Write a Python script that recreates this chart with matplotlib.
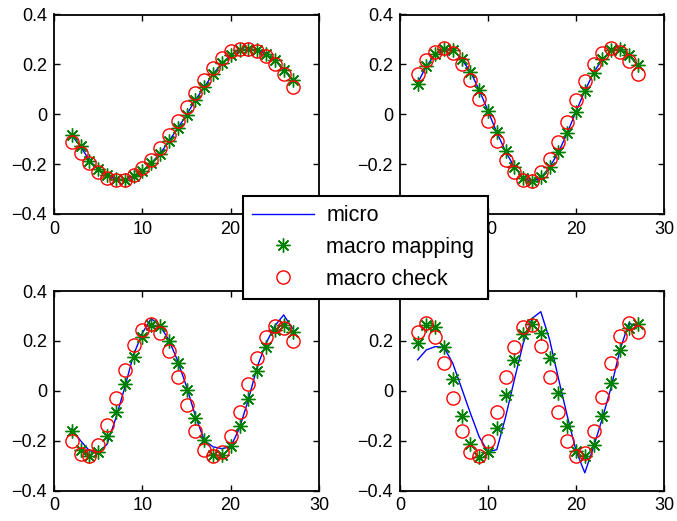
import matplotlib.pyplot as plt
from matplotlib.lines import Line2D

plt.rcParams['font.family'] = ['Liberation Sans', 'DejaVu Sans']
plt.rcParams['font.size'] = 13

# sample positions shared by every panel
x_vals = [2, 3, 4, 5, 6, 7, 8, 9, 10, 11, 12, 13, 14,
          15, 16, 17, 18, 19, 20, 21, 22, 23, 24, 25, 26, 27]

# panel 1 (top left)
micro_1 = [-0.085, -0.128, -0.185, -0.221, -0.245, -0.26, -0.263, -0.25, -0.228, -0.196, -0.158, -0.109, -0.056,
           -0.003, 0.057, 0.108, 0.161, 0.204, 0.237, 0.257, 0.262, 0.257, 0.241, 0.217, 0.177, 0.137]
mapping_1 = [-0.083, -0.129, -0.187, -0.22, -0.244, -0.26, -0.263, -0.249, -0.229, -0.196, -0.159, -0.109, -0.056,
             -0.003, 0.057, 0.108, 0.161, 0.204, 0.237, 0.257, 0.261, 0.257, 0.241, 0.217, 0.177, 0.137]
check_1 = [-0.113, -0.156, -0.196, -0.232, -0.256, -0.265, -0.263, -0.243, -0.216, -0.183, -0.136, -0.085, -0.029,
           0.028, 0.084, 0.137, 0.184, 0.224, 0.255, 0.26, 0.261, 0.255, 0.233, 0.201, 0.161, 0.108]

# panel 2 (top right)
micro_2 = [0.125, 0.193, 0.24, 0.262, 0.26, 0.22, 0.171, 0.097, 0.013, -0.073, -0.149, -0.212, -0.256,
           -0.27, -0.255, -0.212, -0.153, -0.076, 0.011, 0.093, 0.167, 0.22, 0.257, 0.262, 0.237, 0.197]
mapping_2 = [0.121, 0.193, 0.24, 0.26, 0.257, 0.22, 0.171, 0.097, 0.013, -0.073, -0.149, -0.212, -0.256,
             -0.269, -0.253, -0.212, -0.153, -0.076, 0.011, 0.093, 0.167, 0.22, 0.257, 0.26, 0.237, 0.197]
check_2 = [0.16, 0.217, 0.251, 0.264, 0.244, 0.201, 0.137, 0.06, -0.029, -0.109, -0.183, -0.233, -0.263,
           -0.267, -0.232, -0.18, -0.113, -0.033, 0.057, 0.135, 0.2, 0.244, 0.264, 0.251, 0.215, 0.16]

# panel 3 (bottom left)
micro_3 = [-0.153, -0.2, -0.24, -0.247, -0.215, -0.11, 0.012, 0.144, 0.231, 0.29, 0.26, 0.204, 0.12,
           0.017, -0.1, -0.198, -0.225, -0.232, -0.225, -0.15, -0.036, 0.095, 0.19, 0.26, 0.304, 0.25]
mapping_3 = [-0.163, -0.236, -0.263, -0.247, -0.183, -0.087, 0.027, 0.135, 0.217, 0.264, 0.26, 0.2, 0.113,
             0.004, -0.109, -0.199, -0.256, -0.259, -0.223, -0.14, -0.033, 0.081, 0.177, 0.244, 0.264, 0.237]
check_3 = [-0.2, -0.253, -0.263, -0.216, -0.136, -0.029, 0.084, 0.184, 0.244, 0.267, 0.233, 0.161, 0.055,
           -0.056, -0.16, -0.236, -0.263, -0.245, -0.183, -0.085, 0.027, 0.133, 0.217, 0.26, 0.253, 0.201]

# panel 4 (bottom right)
micro_4 = [0.124, 0.164, 0.177, 0.174, 0.11, 0.01, -0.09, -0.185, -0.245, -0.236, -0.105, 0.045, 0.19,
           0.29, 0.317, 0.205, 0.05, -0.1, -0.24, -0.329, -0.225, -0.11, 0.015, 0.164, 0.271, 0.257]
mapping_4 = [0.193, 0.264, 0.255, 0.175, 0.047, -0.1, -0.212, -0.267, -0.247, -0.149, -0.019, 0.124, 0.227,
             0.267, 0.231, 0.131, -0.009, -0.143, -0.243, -0.263, -0.216, -0.103, 0.033, 0.164, 0.251, 0.267]
check_4 = [0.235, 0.271, 0.217, 0.113, -0.029, -0.163, -0.247, -0.263, -0.203, -0.087, 0.055, 0.177, 0.257,
           0.264, 0.181, 0.057, -0.087, -0.203, -0.263, -0.249, -0.163, -0.025, 0.113, 0.22, 0.271, 0.235]

panels = [
    (micro_1, mapping_1, check_1),
    (micro_2, mapping_2, check_2),
    (micro_3, mapping_3, check_3),
    (micro_4, mapping_4, check_4),
]

W, H = 677, 521
fig = plt.figure(figsize=(W / 100, H / 100), dpi=100)

# axes boxes in pixels: left, top, right, bottom
boxes = [(54, 14.5, 319, 214), (400, 14.5, 664, 214),
         (54, 291, 319, 490.5), (400, 291, 664, 490.5)]

asterisk = (8, 2, 0)
for (l, t, r, b), (micro, mapping, check) in zip(boxes, panels):
    ax = fig.add_axes([l / W, 1 - b / H, (r - l) / W, (b - t) / H])
    ax.plot(x_vals, micro, color='#0000ff', lw=1.0)
    ax.plot(x_vals, mapping, ls='none', marker=asterisk, ms=10,
            mec='#008000', mew=1.0, color='#008000')
    ax.plot(x_vals, check, ls='none', marker='o', ms=9.5,
            mfc='none', mec='#ff0000', mew=1.0)
    ax.set_xlim(0, 30)
    ax.set_ylim(-0.4, 0.4)
    ax.set_xticks([0, 10, 20, 30])
    ax.set_yticks([-0.4, -0.2, 0, 0.2, 0.4])
    ax.set_yticklabels(['\u22120.4', '\u22120.2', '0', '0.2', '0.4'])
    ax.tick_params(direction='in', length=4, width=1.0, top=True, right=True,
                   labelsize=13, pad=5, colors='black')
    for s in ax.spines.values():
        s.set_linewidth(1.3)

handles = [
    Line2D([], [], color='#0000ff', lw=1.0),
    Line2D([], [], ls='none', marker=asterisk, ms=10, mec='#008000', mew=1.0, color='#008000'),
    Line2D([], [], ls='none', marker='o', ms=9.5, mfc='none', mec='#ff0000', mew=1.0),
]
# legend box spans x 243..488, y 196..296 (pixels from the top left)
leg = fig.legend(handles, ['micro', 'macro mapping', 'macro check'],
                 loc='upper left', mode='expand',
                 bbox_to_anchor=(243 / W, 1 - 296 / H, 245 / W, 100 / H),
                 borderaxespad=0, fontsize=15.5, handlelength=2.9,
                 handletextpad=0.55, labelspacing=0.5, borderpad=0.42,
                 fancybox=False, framealpha=1, numpoints=1)
leg.get_frame().set_edgecolor('black')
leg.get_frame().set_linewidth(1.5)
leg.set_zorder(10)

fig.savefig('out.png', dpi=100)
